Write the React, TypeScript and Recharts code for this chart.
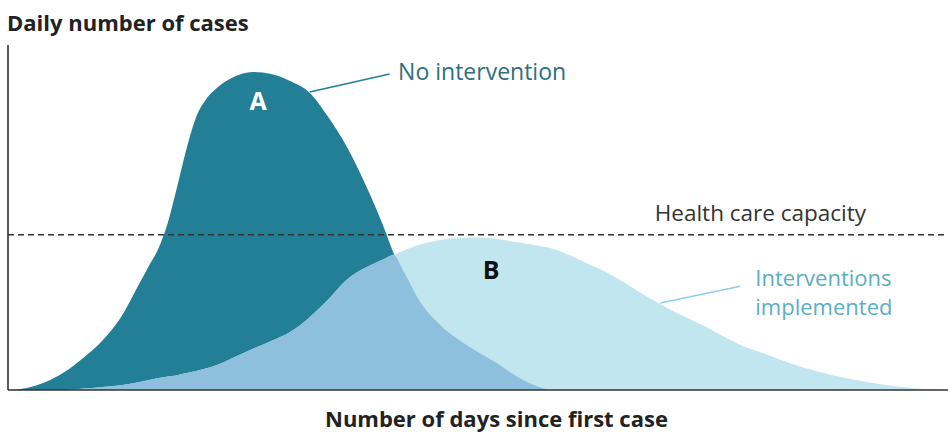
import React from 'react';
import { AreaChart, Area, XAxis, YAxis, ReferenceLine, ReferenceDot } from 'recharts';

const days = [0, 2, 4, 6, 8, 10, 12, 14, 15, 16, 17, 18, 19, 20, 21, 22, 24, 26, 28, 30, 32, 34, 36, 38, 40, 41, 42, 44, 46, 48, 50, 52, 54, 56, 58, 60, 62, 64, 66, 68, 70, 72, 74, 76, 78, 80, 84, 88, 92, 96, 100];
const noIntervention = [0, 0.6, 2.3, 5.2, 9.3, 14.2, 21, 31, 36, 41, 48.5, 59, 70, 79, 84, 87, 90.7, 92.2, 91.6, 89.6, 86.4, 79.4, 70.7, 59.7, 47, 39.8, 34.8, 24.9, 18.8, 14.5, 11, 7.8, 4.1, 1.4, 0, 0, 0, 0, 0, 0, 0, 0, 0, 0, 0, 0, 0, 0, 0, 0, 0];
const withInterventions = [0, 0, 0, 0, 0.4, 0.9, 1.4, 2.3, 2.9, 3.5, 3.9, 4.3, 4.9, 5.5, 6.2, 7, 9.4, 11.9, 14.2, 16.8, 20.9, 26.1, 31.9, 35.4, 38, 39.2, 40.3, 42.3, 43.5, 44.1, 44.2, 43.8, 42.9, 42, 40.9, 38.8, 36.2, 33.6, 30.4, 27, 24, 21.2, 18.6, 15.7, 13, 11, 7, 4.1, 2, 0.6, 0];
const capacity = 45;

const data = days.map((day, i) => ({
  day,
  a: noIntervention[i],
  b: withInterventions[i],
  both: Math.min(noIntervention[i], withInterventions[i]),
}));

const FONT = '"Open Sans", "Noto Sans", sans-serif';

// text placed at a reference dot, centred vertically
const Note = (props: any) => {
  const { viewBox, lines, fill, size, weight, anchor } = props;
  const cx = viewBox.x + viewBox.width / 2;
  const cy = viewBox.y + viewBox.height / 2;
  return (
    <text x={cx} y={cy} fill={fill} fontSize={size} fontWeight={weight} textAnchor={anchor} fontFamily={FONT}>
      {lines.map((l: string, i: number) => (
        <tspan key={i} x={cx} dy={i === 0 ? '0.35em' : '1.3em'}>{l}</tspan>
      ))}
    </text>
  );
};

const App: React.FC = () => {
  return (
    <div style={{ position: 'relative', width: 948, height: 432, fontFamily: FONT }}>
      <style>{'body{margin:0}'}</style>
      <div style={{ position: 'absolute', left: 7, top: 10, fontSize: 22, lineHeight: '24px', fontWeight: 700, color: '#222' }}>
        Daily number of cases
      </div>
      <AreaChart width={948} height={432} data={data} margin={{ top: 45, right: 0, bottom: 42, left: 8 }}>
        <XAxis dataKey="day" type="number" domain={[0, 100]} hide />
        <YAxis domain={[0, 100]} hide />
        <Area type="monotone" dataKey="a" stroke="none" fill="#237f96" fillOpacity={1} isAnimationActive={false} />
        <Area type="monotone" dataKey="b" stroke="none" fill="#c1e6ef" fillOpacity={1} isAnimationActive={false} />
        <Area type="monotone" dataKey="both" stroke="none" fill="#8ec0de" fillOpacity={1} isAnimationActive={false} />
        <ReferenceLine y={capacity} stroke="#333" strokeWidth={1.3} strokeDasharray="6 4" />
        <ReferenceLine y={0} stroke="#333" strokeWidth={1.6} />
        <ReferenceLine segment={[{ x: 0, y: 0 }, { x: 0, y: 100 }]} stroke="#333" strokeWidth={1.6} />
        <ReferenceLine segment={[{ x: 32.1, y: 86.4 }, { x: 40.6, y: 91.6 }]} stroke="#237f96" strokeWidth={1.5} />
        <ReferenceLine segment={[{ x: 69.4, y: 25.2 }, { x: 77.9, y: 30.1 }]} stroke="#8dd0e6" strokeWidth={1.5} />
        <ReferenceDot x={26.6} y={83.8} r={1} fill="none" stroke="none"
          label={<Note lines={['A']} fill="#fff" size={25} weight={700} anchor="middle" />} />
        <ReferenceDot x={51.4} y={34.8} r={1} fill="none" stroke="none"
          label={<Note lines={['B']} fill="#111" size={25} weight={700} anchor="middle" />} />
        <ReferenceDot x={41.5} y={92.2} r={1} fill="none" stroke="none"
          label={<Note lines={['No intervention']} fill="#2f6f80" size={23} weight={400} anchor="start" />} />
        <ReferenceDot x={68.8} y={51.3} r={1} fill="none" stroke="none"
          label={<Note lines={['Health care capacity']} fill="#333" size={22.5} weight={400} anchor="start" />} />
        <ReferenceDot x={79.5} y={32.3} r={1} fill="none" stroke="none"
          label={<Note lines={['Interventions', 'implemented']} fill="#5aaec4" size={22} weight={400} anchor="start" />} />
      </AreaChart>
      <div style={{ position: 'absolute', left: 325, top: 406, fontSize: 22, lineHeight: '24px', fontWeight: 700, color: '#222' }}>
        Number of days since first case
      </div>
    </div>
  );
};

export default App;
